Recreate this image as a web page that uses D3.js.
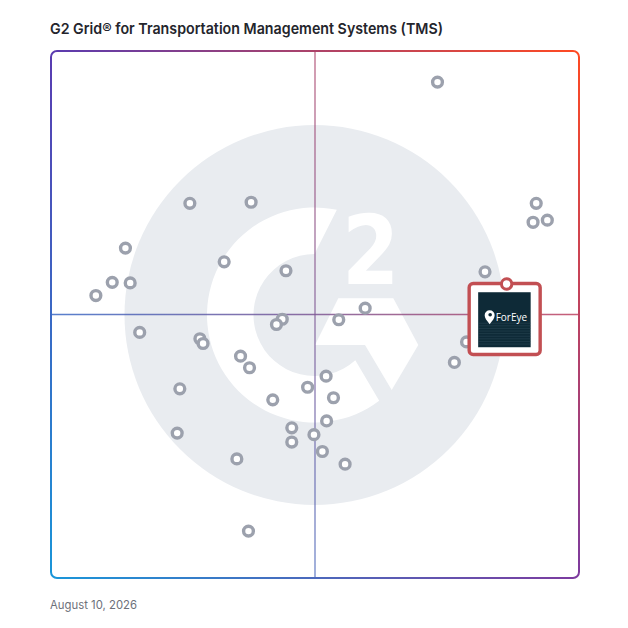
<!DOCTYPE html>
<html>
<head>
<meta charset="utf-8">
<script src="https://cdn.jsdelivr.net/npm/d3@7"></script>
<style>
  body { margin: 0; background: #fff; }
  svg { display: block; }
</style>
</head>
<body>
<div id="chart"></div>
<script>
'use strict';

// G2 Grid for TMS -- x: market presence, y: satisfaction (0..100)
var chartTitle = 'G2 Grid\u00AE for Transportation Management Systems (TMS)';
var chartDate = 'August 10, 2026';

var xScores = [73.2, 91.9, 91.3, 94.0, 26.3, 37.9, 14.1, 32.8, 44.5, 11.6,
	15.0, 8.5, 82.2, 59.5, 54.5, 43.8, 42.7, 16.8, 28.2, 28.8,
	35.9, 37.6, 78.7, 76.4, 24.4, 52.1, 48.6, 53.5, 42.0, 52.2,
	23.9, 45.6, 49.8, 45.6, 51.4, 35.2, 55.7, 37.4];
var yScores = [94.1, 71.1, 67.5, 67.9, 71.1, 71.3, 62.6, 60.0, 58.3, 56.1,
	56.0, 53.6, 58.1, 51.2, 49.0, 49.1, 48.1, 46.6, 45.4, 44.5,
	42.1, 39.9, 44.8, 40.9, 35.9, 38.3, 36.2, 34.2, 33.8, 29.8,
	27.5, 28.5, 27.2, 25.8, 24.0, 22.6, 21.6, 8.9];

var featuredName = 'ForEye';
var featuredX = 86.3;
var featuredY = 55.8;

var width = 628, height = 628;
var gridL = 51, gridR = 579, gridT = 51, gridB = 578;

var svg = d3.select('#chart').append('svg')
	.attr('width', width)
	.attr('height', height);

var x = d3.scaleLinear().domain([0, 100]).range([gridL, gridR]);
var y = d3.scaleLinear().domain([0, 100]).range([gridB, gridT]);

var defs = svg.append('defs');

function hGrad(id, c0, c1) {
	var g = defs.append('linearGradient').attr('id', id)
		.attr('gradientUnits', 'userSpaceOnUse')
		.attr('x1', gridL).attr('y1', 0).attr('x2', gridR).attr('y2', 0);
	g.append('stop').attr('offset', 0).attr('stop-color', c0);
	g.append('stop').attr('offset', 1).attr('stop-color', c1);
}
hGrad('gTop', '#5a3bb0', '#ff4a22');
hGrad('gBottom', '#1a96d9', '#7d3b9f');

var fade = defs.append('linearGradient').attr('id', 'fadeV')
	.attr('gradientUnits', 'userSpaceOnUse')
	.attr('x1', 0).attr('y1', gridT).attr('x2', 0).attr('y2', gridB);
fade.append('stop').attr('offset', 0).attr('stop-color', '#fff');
fade.append('stop').attr('offset', 1).attr('stop-color', '#000');

defs.append('mask').attr('id', 'topMask')
	.attr('maskUnits', 'userSpaceOnUse')
	.attr('x', 0).attr('y', 0).attr('width', width).attr('height', height)
	.append('rect')
	.attr('x', 0).attr('y', 0).attr('width', width).attr('height', height)
	.attr('fill', 'url(#fadeV)');

var lineMask = defs.append('mask').attr('id', 'lineMask')
	.attr('maskUnits', 'userSpaceOnUse')
	.attr('x', 0).attr('y', 0).attr('width', width).attr('height', height);
lineMask.append('rect')
	.attr('x', 0).attr('y', 0).attr('width', width).attr('height', height)
	.attr('fill', '#000');
lineMask.append('rect')
	.attr('x', gridL).attr('y', gridT)
	.attr('width', gridR - gridL).attr('height', gridB - gridT)
	.attr('rx', 6)
	.attr('fill', 'none')
	.attr('stroke', '#fff')
	.attr('stroke-width', 2);
lineMask.append('line')
	.attr('x1', gridL).attr('x2', gridR)
	.attr('y1', y(50)).attr('y2', y(50))
	.attr('stroke', '#fff').attr('stroke-opacity', 0.85)
	.attr('stroke-width', 1.4);
lineMask.append('line')
	.attr('x1', x(50)).attr('x2', x(50))
	.attr('y1', gridT).attr('y2', gridB)
	.attr('stroke', '#fff').attr('stroke-opacity', 0.75)
	.attr('stroke-width', 1.4);

// title
svg.append('text')
	.attr('x', 50).attr('y', 34)
	.attr('font-family', 'Inter, "Noto Sans", sans-serif')
	.attr('font-weight', 600)
	.attr('font-size', 15)
	.attr('fill', '#24252c')
	.attr('textLength', 393)
	.attr('lengthAdjust', 'spacingAndGlyphs')
	.text(chartTitle);

// watermark logo
var cx = 314.5, cy = 315;
var wm = svg.append('g');
wm.append('circle')
	.attr('cx', cx).attr('cy', cy).attr('r', 190)
	.attr('fill', '#e9ecf0');

var deg = Math.PI / 180;
var rOut = 107.5, rIn = 61;
var cPath = d3.path();
cPath.arc(cx, cy, rOut, (12 - 90) * deg, (143 - 90) * deg, true);
cPath.arc(cx, cy, rIn, (138 - 90) * deg, (360 - 90) * deg, false);
cPath.closePath();
wm.append('path').attr('d', cPath.toString()).attr('fill', '#fff');

var chev = [[338.3, 298.3], [393.3, 298.3], [418.3, 345], [391.7, 390], [365, 345], [315, 345]];
wm.append('path')
	.attr('d', d3.line()(chev) + 'Z')
	.attr('fill', '#fff');

wm.append('text')
	.attr('transform', 'translate(342,283.5) scale(0.86,1)')
	.attr('font-family', '"DejaVu Sans", sans-serif')
	.attr('font-weight', 700)
	.attr('font-size', 96)
	.attr('fill', '#fff')
	.text('2');

// border + crosshair with four-corner gradient
var grad = svg.append('g').attr('mask', 'url(#lineMask)');
grad.append('rect')
	.attr('x', 0).attr('y', 0).attr('width', width).attr('height', height)
	.attr('fill', 'url(#gBottom)');
grad.append('rect')
	.attr('x', 0).attr('y', 0).attr('width', width).attr('height', height)
	.attr('fill', 'url(#gTop)')
	.attr('mask', 'url(#topMask)');

// products
var pts = d3.zip(xScores, yScores);
svg.append('g').selectAll('circle')
	.data(pts)
	.enter()
	.append('circle')
	.attr('cx', function (d) { return x(d[0]); })
	.attr('cy', function (d) { return y(d[1]); })
	.attr('r', 4.9)
	.attr('fill', '#fff')
	.attr('stroke', '#9ca1ad')
	.attr('stroke-width', 3.4);

// featured product
var red = '#c24f53';
var fx = x(featuredX), fy = y(featuredY);
var fg = svg.append('g');
fg.append('rect')
	.attr('x', fx - 37.5).attr('y', fy - 0.5)
	.attr('width', 71).attr('height', 71)
	.attr('rx', 4)
	.attr('fill', '#fff')
	.attr('stroke', red)
	.attr('stroke-width', 3.4);

var logoX = fx - 28.5, logoY = fy + 8.3;
fg.append('rect')
	.attr('x', logoX).attr('y', logoY)
	.attr('width', 52.5).attr('height', 55)
	.attr('fill', '#0e2a37');
d3.range(0, 9).forEach(function (i) {
	fg.append('line')
		.attr('x1', logoX).attr('x2', logoX + 52.5)
		.attr('y1', logoY + 31 + i * 2.6).attr('y2', logoY + 31 + i * 2.6)
		.attr('stroke', '#3c5866')
		.attr('stroke-opacity', 0.35)
		.attr('stroke-width', 1);
});
// pin icon
var pin = fg.append('g').attr('transform', 'translate(' + (logoX + 11.5) + ',' + (logoY + 26) + ')');
pin.append('path')
	.attr('d', 'M0,6 C-3,2 -5,0 -5,-3 A5,5 0 1 1 5,-3 C5,0 3,2 0,6 Z')
	.attr('fill', '#fff');
pin.append('circle').attr('cx', 0.5).attr('cy', -3.5).attr('r', 1.8).attr('fill', '#0e2a37');
fg.append('text')
	.attr('x', logoX + 17.5).attr('y', logoY + 28.5)
	.attr('font-family', '"Open Sans", sans-serif')
	.attr('font-size', 10)
	.attr('fill', '#fff')
	.text(featuredName);

fg.append('circle')
	.attr('cx', fx).attr('cy', fy)
	.attr('r', 5.2)
	.attr('fill', '#fff')
	.attr('stroke', red)
	.attr('stroke-width', 3);

// date
svg.append('text')
	.attr('x', 50).attr('y', 608.5)
	.attr('font-family', 'Inter, "Noto Sans", sans-serif')
	.attr('font-size', 11.5)
	.attr('fill', '#6d707a')
	.attr('textLength', 87)
	.attr('lengthAdjust', 'spacingAndGlyphs')
	.text(chartDate);
</script>
</body>
</html>
